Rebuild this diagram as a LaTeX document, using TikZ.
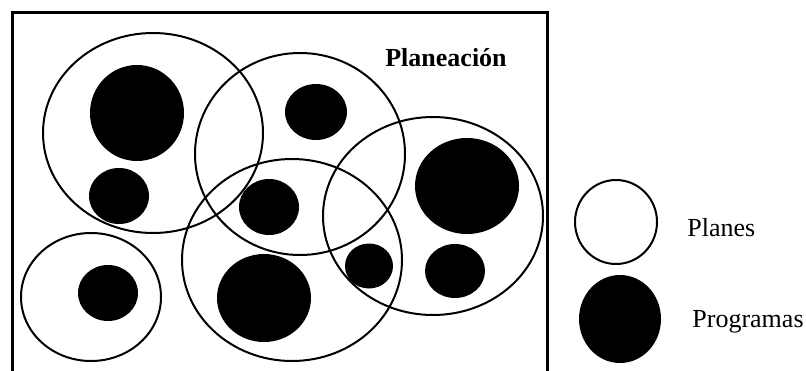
\documentclass[tikz,border=0pt]{standalone}
\usepackage{fontspec}
\setmainfont{Liberation Serif}
\usetikzlibrary{shapes.geometric}

\tikzset{
  plan/.style={ellipse,draw,line width=1pt,inner sep=0pt,outer sep=0pt},
  prog/.style={ellipse,fill=black,inner sep=0pt,outer sep=0pt},
  label/.style={font=\fontsize{13}{15}\selectfont,inner sep=0pt}
}

\begin{document}
\begin{tikzpicture}[x=0.5pt,y=-0.5pt]
\useasboundingbox (0,0) rectangle (806,370);

% frame (bottom edge runs off the page)
\draw[line width=1.5pt] (12,372) -- (12,12) -- (547,12) -- (547,372);

% title
\node[label,font=\fontsize{13}{15}\selectfont\bfseries] (title) at (446,58) {Planeación};

% ---- Planes ----
\node[plan,minimum width=110pt,minimum height=100pt] (plan1) at (153,133) {};
\node[plan,minimum width=105pt,minimum height=101pt] (plan2) at (300,154) {};
\node[plan,minimum width=110pt,minimum height=99pt] (plan3) at (433,216) {};
\node[plan,minimum width=110pt,minimum height=101pt] (plan4) at (292,260) {};
\node[plan,minimum width=70pt,minimum height=64pt] (plan5) at (91,297) {};

% ---- Programas ----
\node[prog,minimum width=47pt,minimum height=48pt] (prog1) at (137,113) {};
\node[prog,minimum width=30pt,minimum height=28pt] (prog2) at (119,196) {};
\node[prog,minimum width=31pt,minimum height=28pt] (prog3) at (316,112) {};
\node[prog,minimum width=30pt,minimum height=28pt] (prog4) at (269,207) {};
\node[prog,minimum width=47pt,minimum height=44pt] (prog5) at (264,298) {};
\node[prog,minimum width=30pt,minimum height=28pt] (prog6) at (108,293) {};
\node[prog,minimum width=24pt,minimum height=22.5pt] (prog7) at (369,266) {};
\node[prog,minimum width=52pt,minimum height=48pt] (prog8) at (467,186) {};
\node[prog,minimum width=30pt,minimum height=27pt] (prog9) at (455,271) {};

% ---- legend ----
\node[plan,minimum width=41pt,minimum height=42pt] (keyplan) at (616,222) {};
\node[prog,minimum width=41pt,minimum height=44pt] (keyprog) at (620,319) {};
\node[label,anchor=west] (planes) at (687,228) {Planes};
\node[label,anchor=west] (programas) at (692,322) {Programas};

\end{tikzpicture}
\end{document}
